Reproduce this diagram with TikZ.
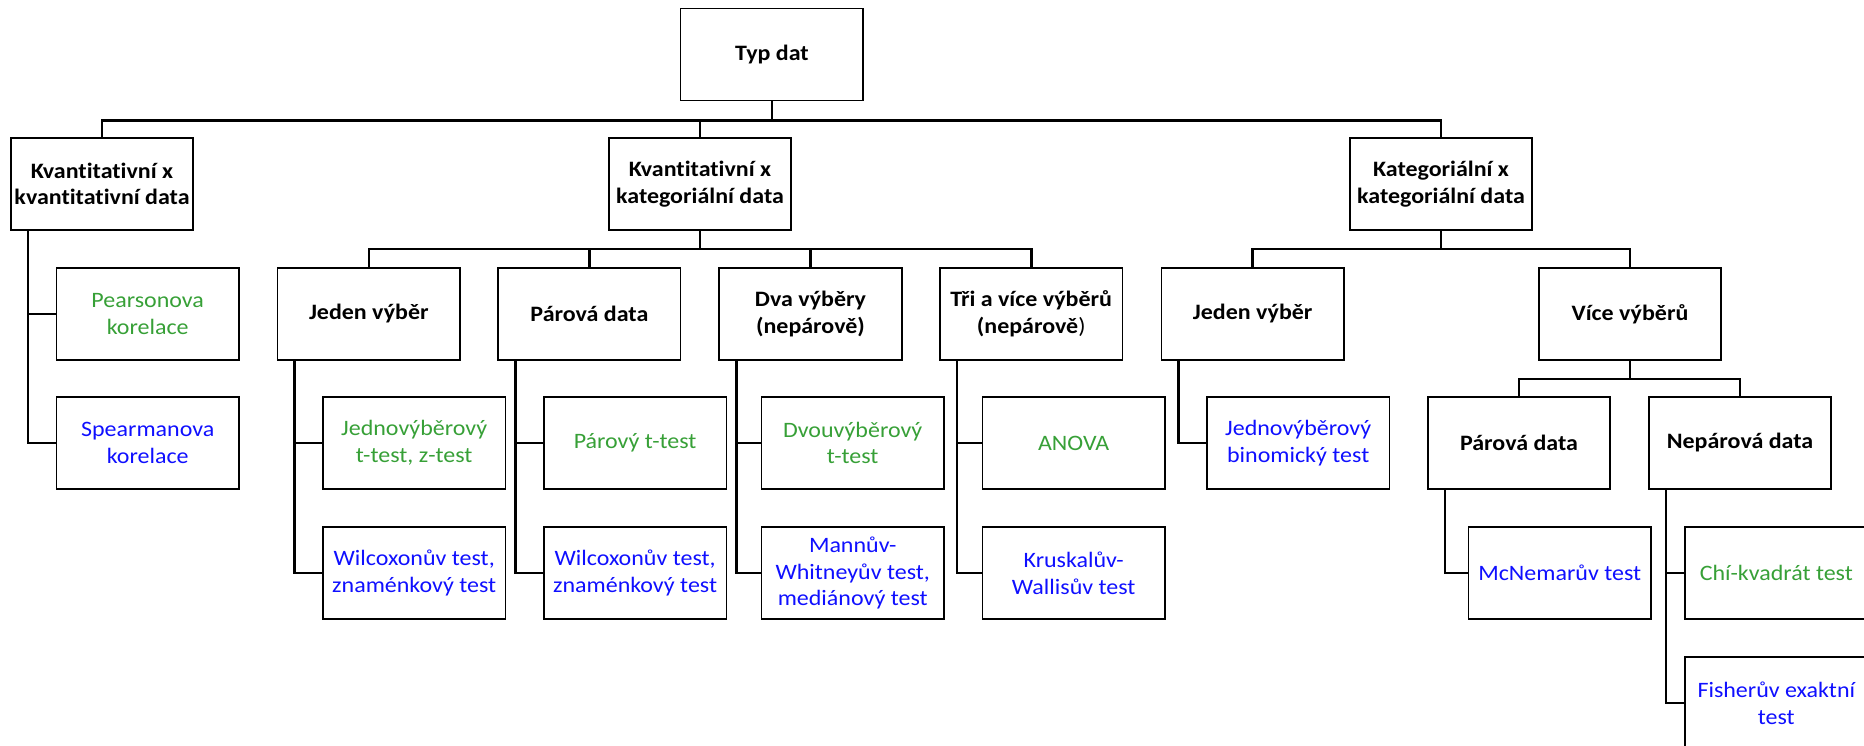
\documentclass[tikz,border=0pt]{standalone}
\usepackage{fontspec}
\setmainfont[Ligatures=NoCommon,FakeStretch=1.09]{Carlito}
\definecolor{tgreen}{RGB}{55,160,55}
\definecolor{tblue}{RGB}{15,15,255}
\begin{document}
\begin{tikzpicture}[x=1pt,y=1pt,
  box/.style={draw=black, line width=1.6pt, minimum width=182.5pt, minimum height=92pt, align=center, inner sep=1pt, font=\fontsize{22}{26.7}\selectfont},
  head/.style={box, font=\fontsize{22}{26.7}\selectfont\bfseries},
  gtest/.style={box, text=tgreen},
  btest/.style={box, text=tblue},
  conn/.style={line width=2.6pt, line cap=rect}]
\useasboundingbox (0,0) rectangle (1864,-746);
\clip (0,0) rectangle (1864,-746);
% level 0/1
\node[head] (root) at (771.9,-54.5) {Typ dat};
\node[head] (kk) at (102,-184) {Kvantitativní x\\kvantitativní data};
\node[head] (kc) at (700,-184) {Kvantitativní x\\kategoriální data};
\node[head] (cc) at (1441,-184) {Kategoriální x\\kategoriální data};
% level 2
\node[gtest] (pear) at (147.7,-314) {Pearsonova\\korelace};
\node[btest] (spear) at (147.7,-443) {Spearmanova\\korelace};
\node[head] (j1) at (368.8,-314) {Jeden výběr};
\node[head] (pd) at (589.4,-314) {Párová data};
\node[head] (dv) at (810.5,-314) {Dva výběry\\(nepárově)};
\node[head] (tri) at (1031.2,-314) {Tři a více výběrů\\(nepárově\textmd{)}};
\node[head] (cj) at (1252.7,-314) {Jeden výběr};
\node[head] (cv) at (1630,-314) {Více výběrů};
% leaves
\node[gtest] (j1a) at (414.2,-443) {Jednovýběrový\\t-test, z-test};
\node[btest] (j1b) at (414.2,-573) {Wilcoxonův test,\\znaménkový test};
\node[gtest] (pda) at (635.1,-443) {Párový t-test};
\node[btest] (pdb) at (635.1,-573) {Wilcoxonův test,\\znaménkový test};
\node[gtest] (dva) at (852.7,-443) {Dvouvýběrový\\t-test};
\node[btest] (dvb) at (852.7,-573) {Mannův-\\Whitneyův test,\\mediánový test};
\node[gtest] (tria) at (1073.7,-443) {ANOVA};
\node[btest] (trib) at (1073.7,-573) {Kruskalův-\\Wallisův test};
\node[btest] (cja) at (1298.2,-443) {Jednovýběrový\\binomický test};
\node[head] (cp) at (1519,-443) {Párová data};
\node[head] (cn) at (1740,-443) {Nepárová data};
\node[btest] (cpa) at (1559.7,-573) {McNemarův test};
\node[gtest] (cna) at (1776.3,-573) {Chí-kvadrát test};
\node[btest] (cnb) at (1776.3,-703) {Fisherův exaktní\\test};
% tree connectors
\foreach \c in {kk,kc,cc} \draw[conn] (root.south) -- ++(0,-19) -| (\c.north);
\foreach \c in {j1,pd,dv,tri} \draw[conn] (kc.south) -- ++(0,-18.3) -| (\c.north);
\foreach \c in {cj,cv} \draw[conn] (cc.south) -- ++(0,-18.3) -| (\c.north);
\foreach \c in {cp,cn} \draw[conn] (cv.south) -- ++(0,-18) -| (\c.north);
% side connectors
\foreach \p/\c in {kk/pear,kk/spear,j1/j1a,j1/j1b,pd/pda,pd/pdb,dv/dva,dv/dvb,tri/tria,tri/trib,cj/cja,cp/cpa,cn/cna,cn/cnb}
  \draw[conn] ([xshift=18pt]\p.south west) |- (\c.west);
\end{tikzpicture}
\end{document}
